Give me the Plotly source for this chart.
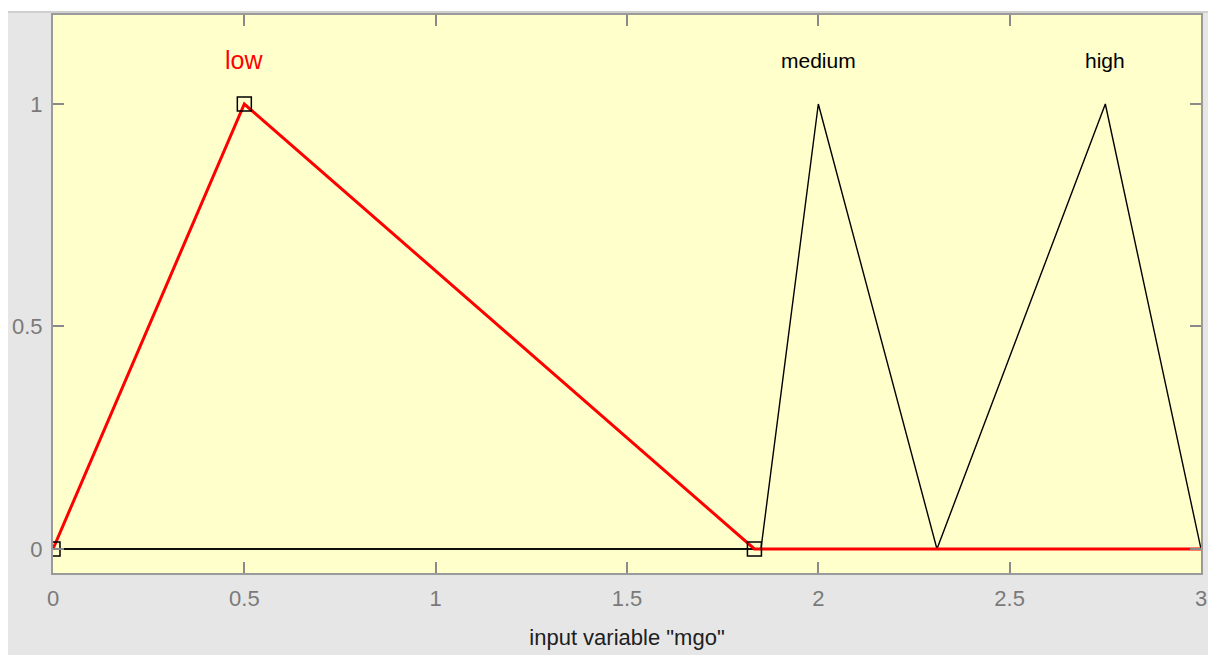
import plotly.graph_objects as go

# membership functions of input "mgo" (triangular, [a b c])
mf_names = ["low", "medium", "high"]
mf_params = [[0.0, 0.5, 1.833], [1.85, 2.0, 2.31], [2.31, 2.75, 3.0]]
selected = "low"

x_range = [0, 3]
y_range = [-0.054, 1.2]
x_ticks = [0, 0.5, 1, 1.5, 2, 2.5, 3]
y_ticks = [0, 0.5, 1]
label_y = 1.098
axis_title = 'input variable "mgo"'

W, H = 1208, 655
L, R, T, B = 53, 7, 15, 82
FONT = "Liberation Sans, Arial, sans-serif"


def tri_points(p):
    # corner points of a trimf over the whole input range
    a, b, c = p
    xs = [x_range[0], a, b, c, x_range[1]]
    ys = [0, 0, 1, 0, 0]
    return xs, ys


def px_to_paper(px, py):
    return (px - L) / (W - L - R), 1 - (py - T) / (H - T - B)


fig = go.Figure()

# unselected MFs first (thin black)
for name, p in zip(mf_names, mf_params):
    if name == selected:
        continue
    xs, ys = tri_points(p)
    fig.add_trace(go.Scatter(x=xs, y=ys, mode="lines",
                             line=dict(color="black", width=1.4),
                             hoverinfo="skip"))

# selected MF in red with its parameter handles
for name, p in zip(mf_names, mf_params):
    if name != selected:
        continue
    xs, ys = tri_points(p)
    fig.add_trace(go.Scatter(x=xs[1:], y=ys[1:], mode="lines",
                             line=dict(color="#ff0000", width=3)))
    fig.add_trace(go.Scatter(x=p, y=[0, 1, 0], mode="markers",
                             marker=dict(symbol="square-open", size=14,
                                         color="black", line=dict(width=1.5))))

for name, p in zip(mf_names, mf_params):
    fig.add_annotation(x=p[1], y=label_y, text=name, showarrow=False,
                       font=dict(family=FONT, size=25 if name == selected else 21,
                                 color="#ff0000" if name == selected else "black"))

# white strips around the grey window area
x0, y0 = px_to_paper(0, 0)
x1, y1 = px_to_paper(8, 12)
x2, _ = px_to_paper(W, 0)
_, y3 = px_to_paper(0, H)
fig.add_shape(type="rect", xref="paper", yref="paper", x0=x0, x1=x2, y0=y1, y1=y0,
              fillcolor="white", line_width=0, layer="below")
fig.add_shape(type="rect", xref="paper", yref="paper", x0=x0, x1=x1, y0=y3, y1=y0,
              fillcolor="white", line_width=0, layer="below")
fig.add_shape(type="line", xref="paper", yref="paper", x0=x1, x1=x2, y0=y1, y1=y1,
              line=dict(color="#cfcfcf", width=2), layer="below")

axis_common = dict(showgrid=False, zeroline=False, showline=True, linecolor="#9a9a9a",
                   linewidth=2, mirror="ticks", ticks="inside", ticklen=11,
                   tickcolor="#8a8a8a", tickwidth=1.5,
                   tickfont=dict(family=FONT, size=22, color="#7a7a7a"))

fig.update_xaxes(range=x_range, tickvals=x_ticks, ticktext=[f"{v:g}" for v in x_ticks],
                 ticklabelstandoff=5,
                 title=dict(text=axis_title, standoff=19,
                            font=dict(family=FONT, size=22, color="#202020")),
                 **axis_common)
fig.update_yaxes(range=y_range, tickvals=y_ticks, ticktext=[f"{v:g}" for v in y_ticks],
                 ticklabelstandoff=4, **axis_common)

fig.update_layout(width=W, height=H,
                  margin=dict(l=L, r=R, t=T, b=B, autoexpand=False),
                  paper_bgcolor="#e6e6e6", plot_bgcolor="#ffffcc",
                  showlegend=False)

# drop the default page margin so the figure fills the window
fig.write_html("out.html", config={"displayModeBar": False},
               post_script="document.body.style.margin='0';"
                           "document.body.style.overflow='hidden';")
